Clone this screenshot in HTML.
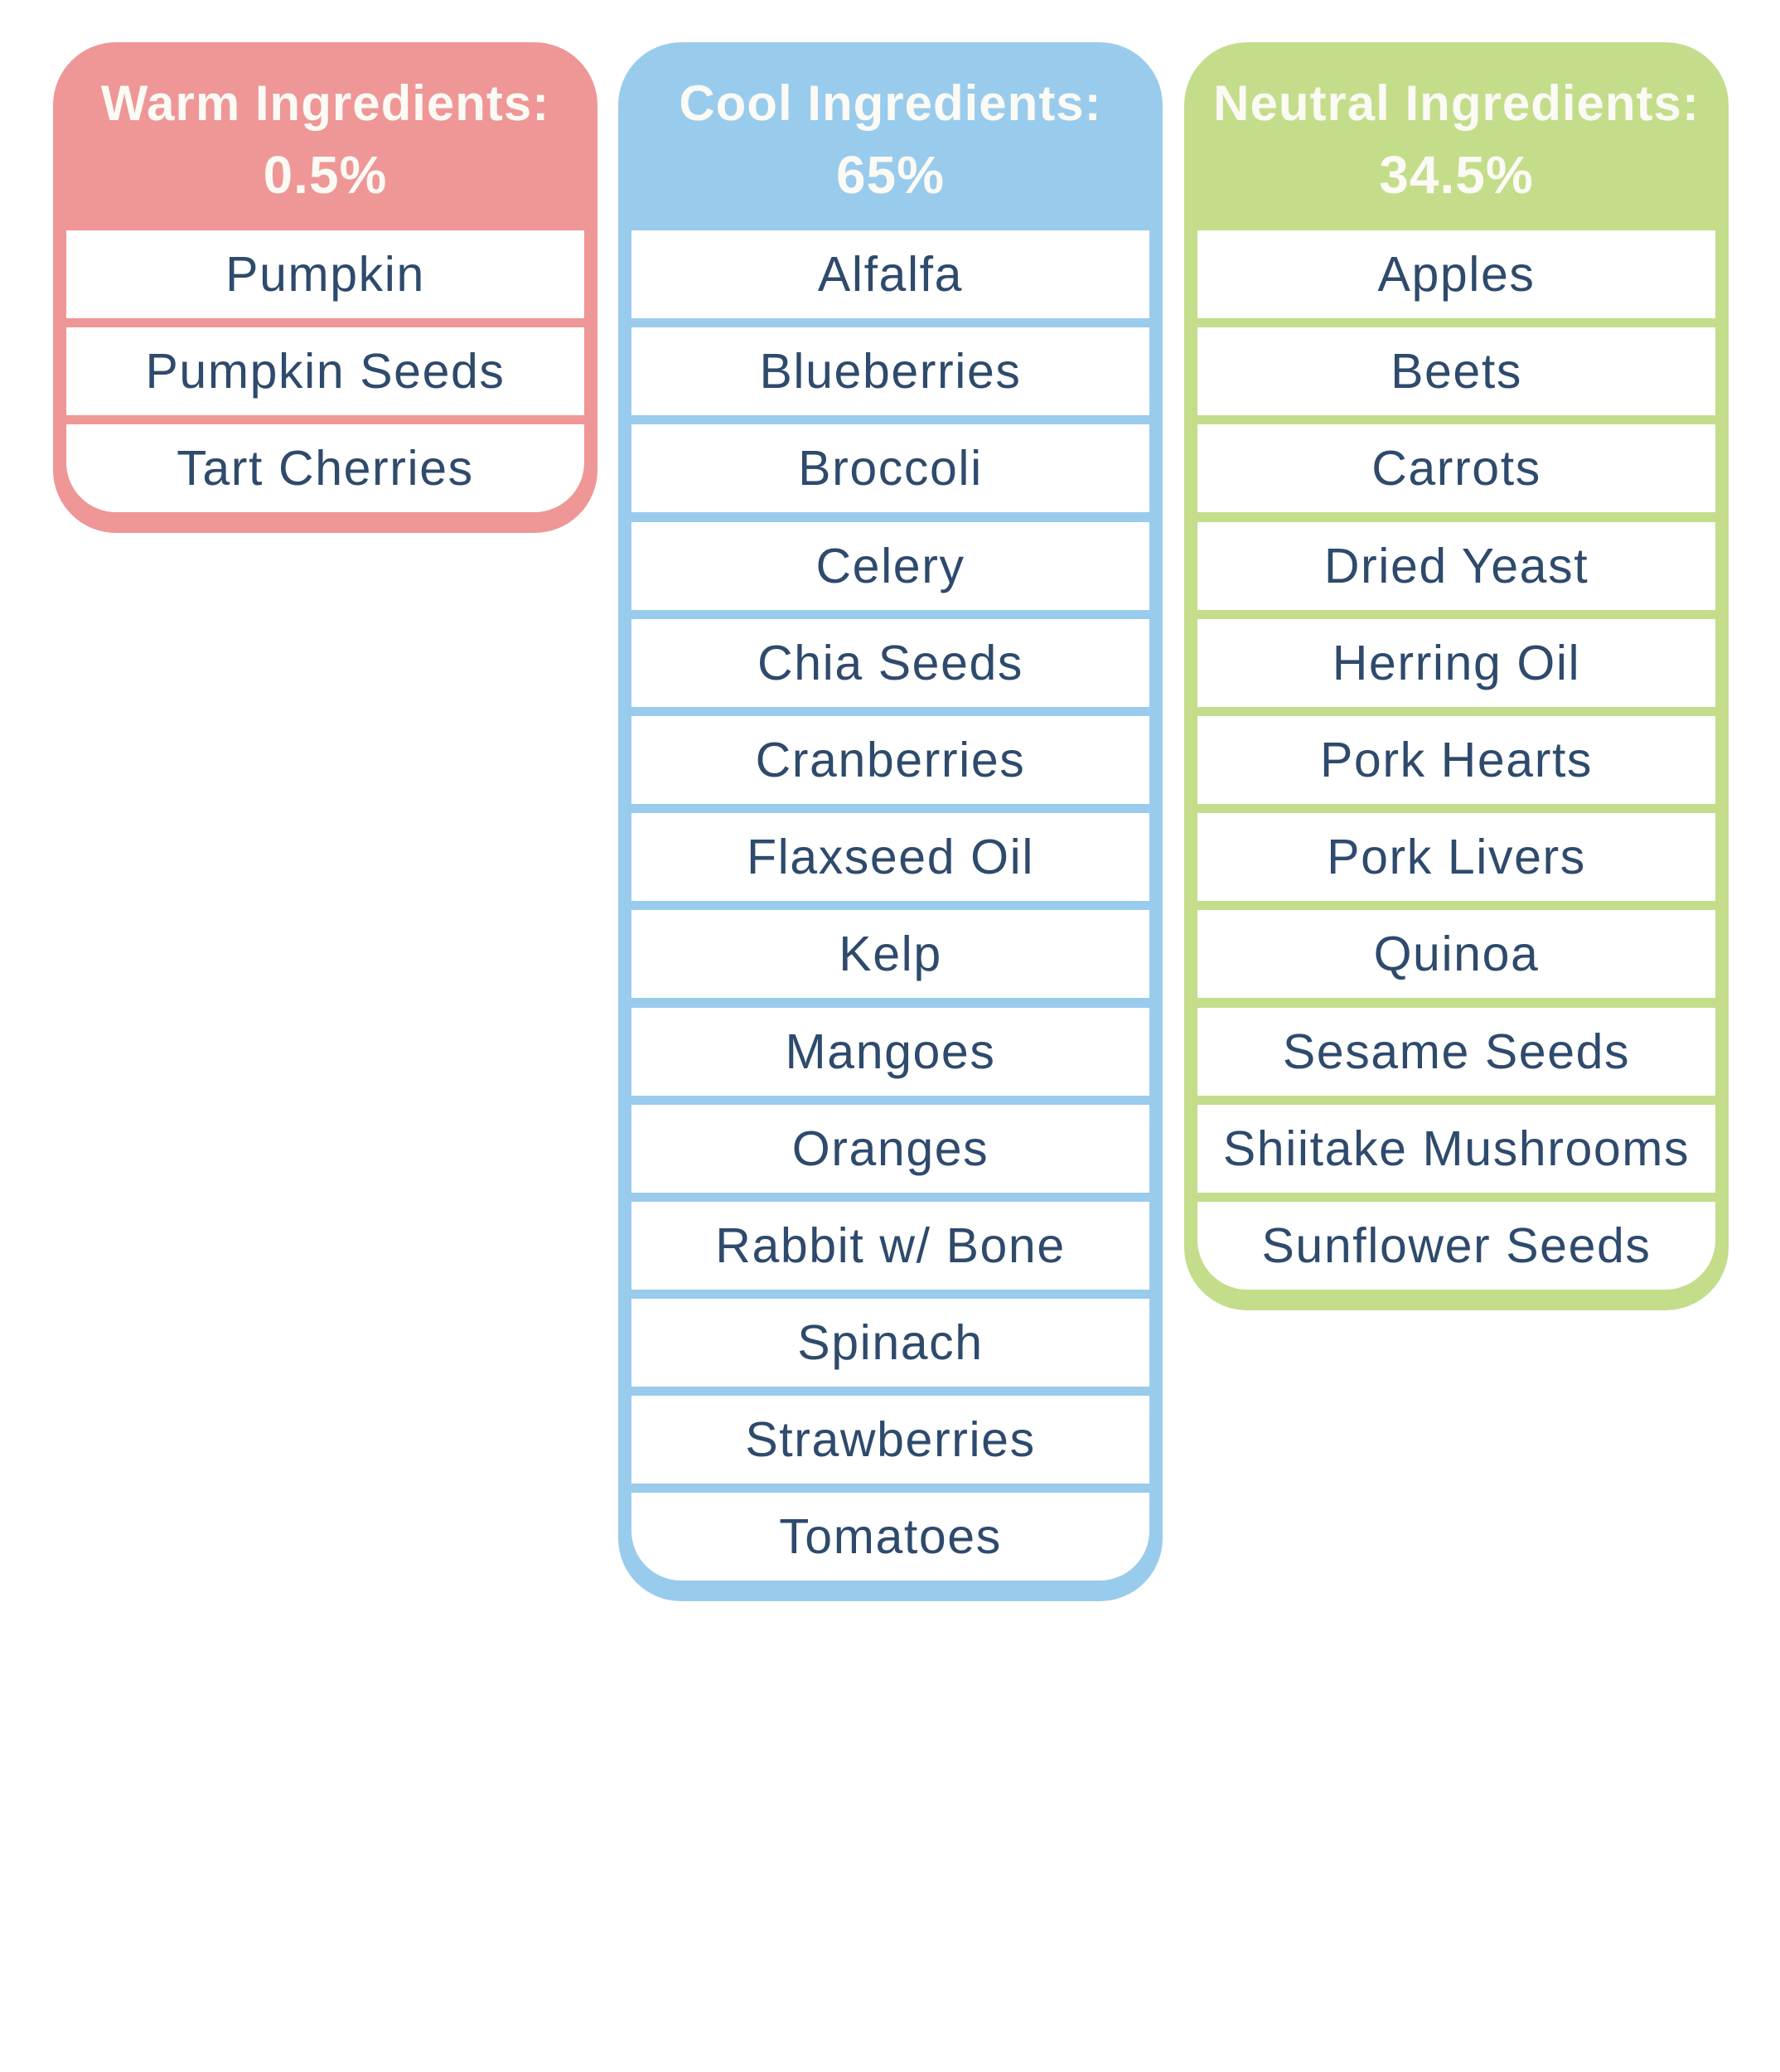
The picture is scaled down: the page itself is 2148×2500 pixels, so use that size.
<!DOCTYPE html>
<html><head><meta charset="utf-8"><style>
html,body{margin:0;padding:0;background:#fff;width:2148px;height:2500px;overflow:hidden}
.box{position:absolute;top:51px;width:657px;border-radius:76px;box-sizing:border-box;padding:0 16px 25px 16px}
.hd{height:227px;box-sizing:border-box;padding-top:34px;text-align:center;color:#fbfaf5;font-family:"Liberation Sans",sans-serif;font-weight:bold;letter-spacing:1px}
.h1{font-size:60px;line-height:80px}
.h2{font-size:64px;line-height:92px}
.r{height:106px;background:#fff;margin-bottom:11.2px;text-align:center;font-family:"Liberation Sans",sans-serif;font-size:59px;line-height:106px;color:#2e4a6c;letter-spacing:1.6px}
.r:last-child{margin-bottom:0;border-radius:0 0 60px 60px}
.w{left:64px;background:#ef9696}
.c{left:746px;background:#99cbec}
.n{left:1429px;background:#c3dd8a}
</style></head><body>
<div class="box w"><div class="hd"><div class="h1">Warm Ingredients:</div><div class="h2">0.5%</div></div>
<div class="r">Pumpkin</div><div class="r">Pumpkin Seeds</div><div class="r">Tart Cherries</div></div>
<div class="box c"><div class="hd"><div class="h1">Cool Ingredients:</div><div class="h2">65%</div></div>
<div class="r">Alfalfa</div><div class="r">Blueberries</div><div class="r">Broccoli</div><div class="r">Celery</div><div class="r">Chia Seeds</div><div class="r">Cranberries</div><div class="r">Flaxseed Oil</div><div class="r">Kelp</div><div class="r">Mangoes</div><div class="r">Oranges</div><div class="r">Rabbit w/ Bone</div><div class="r">Spinach</div><div class="r">Strawberries</div><div class="r">Tomatoes</div></div>
<div class="box n"><div class="hd"><div class="h1">Neutral Ingredients:</div><div class="h2">34.5%</div></div>
<div class="r">Apples</div><div class="r">Beets</div><div class="r">Carrots</div><div class="r">Dried Yeast</div><div class="r">Herring Oil</div><div class="r">Pork Hearts</div><div class="r">Pork Livers</div><div class="r">Quinoa</div><div class="r">Sesame Seeds</div><div class="r">Shiitake Mushrooms</div><div class="r">Sunflower Seeds</div></div>
</body></html>
